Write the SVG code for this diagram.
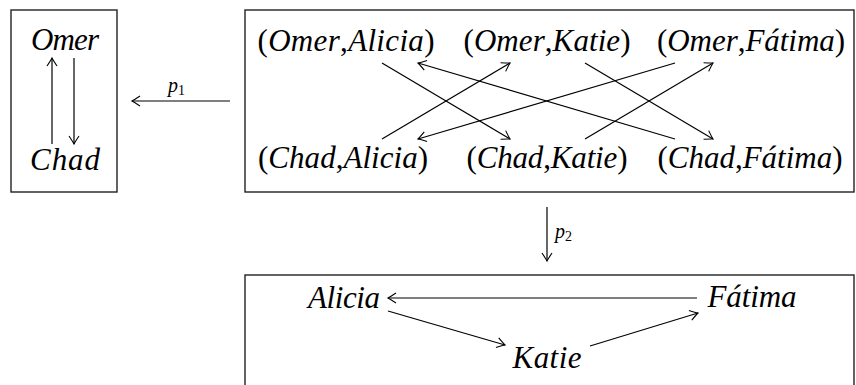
<svg xmlns="http://www.w3.org/2000/svg" width="856" height="385" viewBox="0 0 856 385">
<defs>
<style>
.box{fill:none;stroke:#222;stroke-width:1.4}
.t{font-family:'Liberation Serif','DejaVu Serif',serif;font-style:italic;font-size:31px;fill:#000;text-anchor:middle}
.u{font-style:normal}
.lbl{font-family:'Liberation Serif','DejaVu Serif',serif;font-style:italic;font-size:20px;fill:#000}
.sub{font-style:normal;font-size:14px}
.e{fill:none;stroke:#000;stroke-width:1.2;marker-end:url(#ah)}
</style>
<marker id="ah" viewBox="-10 -6 12 12" refX="0" refY="0" markerWidth="12" markerHeight="12" markerUnits="userSpaceOnUse" orient="auto">
<path d="M-8,-5 Q-2,-1 0,0 Q-2,1 -8,5" fill="none" stroke="#000" stroke-width="1.1"/>
</marker>
</defs>
<rect width="856" height="385" fill="#fff"/>

<g id="boxA">
<rect class="box" x="11" y="10" width="106" height="182"/>
<g id="Omer"><text class="t" x="65" y="50" textLength="68">Omer</text></g>
<g id="Chad"><text class="t" x="65" y="170" textLength="70">Chad</text></g>
</g>

<g id="boxB">
<rect class="box" x="245" y="10" width="609" height="182"/>
<g id="OmerAlicia"><text class="t" x="346" y="51" textLength="177"><tspan class="u">(</tspan>Omer<tspan class="u">,</tspan>Alicia<tspan class="u">)</tspan></text></g>
<g id="OmerKatie"><text class="t" x="547" y="51" textLength="167"><tspan class="u">(</tspan>Omer<tspan class="u">,</tspan>Katie<tspan class="u">)</tspan></text></g>
<g id="OmerFatima"><text class="t" x="751" y="51" textLength="188"><tspan class="u">(</tspan>Omer<tspan class="u">,</tspan>Fátima<tspan class="u">)</tspan></text></g>
<g id="ChadAlicia"><text class="t" x="343" y="168" textLength="170"><tspan class="u">(</tspan>Chad<tspan class="u">,</tspan>Alicia<tspan class="u">)</tspan></text></g>
<g id="ChadKatie"><text class="t" x="547" y="168" textLength="161"><tspan class="u">(</tspan>Chad<tspan class="u">,</tspan>Katie<tspan class="u">)</tspan></text></g>
<g id="ChadFatima"><text class="t" x="750" y="168" textLength="185"><tspan class="u">(</tspan>Chad<tspan class="u">,</tspan>Fátima<tspan class="u">)</tspan></text></g>
</g>

<g id="boxC">
<rect class="box" x="245" y="275" width="609" height="130"/>
<g id="Alicia"><text class="t" x="344" y="308" textLength="72">Alicia</text></g>
<g id="Fatima"><text class="t" x="752" y="307" textLength="89">Fátima</text></g>
<g id="Katie"><text class="t" x="547" y="368" textLength="69">Katie</text></g>
</g>

<g id="connectors">
<line class="e" x1="52" y1="144" x2="52" y2="58"/>
<line class="e" x1="74" y1="58" x2="74" y2="144"/>
<line class="e" x1="230" y1="101" x2="132" y2="101"/>
<text class="lbl" x="168" y="92">p<tspan class="sub" dy="3">1</tspan></text>

<line class="e" x1="382" y1="63" x2="510" y2="139"/>
<line class="e" x1="382" y1="139" x2="510" y2="63"/>
<line class="e" x1="675" y1="63" x2="418" y2="139"/>
<line class="e" x1="675" y1="139" x2="418" y2="63"/>
<line class="e" x1="585" y1="63" x2="713" y2="139"/>
<line class="e" x1="585" y1="139" x2="713" y2="63"/>

<line class="e" x1="547" y1="207" x2="547" y2="261"/>
<text class="lbl" x="555" y="238">p<tspan class="sub" dy="3">2</tspan></text>

<line class="e" x1="697" y1="298" x2="388" y2="298"/>
<line class="e" x1="388" y1="311" x2="505" y2="345"/>
<line class="e" x1="590" y1="346" x2="698" y2="313"/>
</g>
</svg>
